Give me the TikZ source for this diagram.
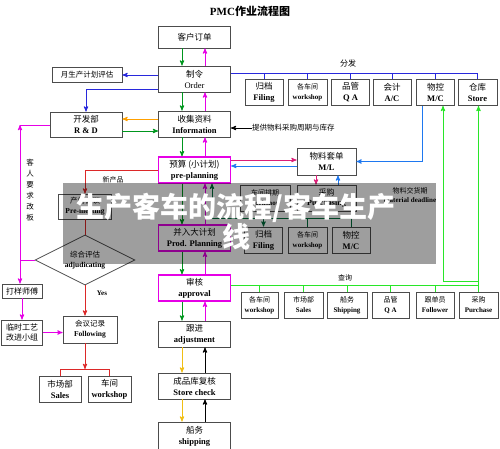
\documentclass[tikz,border=0pt]{standalone}
\usepackage{fontspec}
\setmainfont{Liberation Serif}
\newfontfamily\cjk{Noto Sans CJK SC}
\usepackage{tikz}
\usetikzlibrary{arrows,shapes.geometric}
\definecolor{gcol}{RGB}{0,150,30}
\definecolor{mcol}{RGB}{230,0,230}
\definecolor{bcol}{RGB}{40,40,220}
\definecolor{lbcol}{RGB}{30,120,240}
\definecolor{ocol}{RGB}{255,160,0}
\definecolor{ycol}{RGB}{240,190,20}
\definecolor{rcol}{RGB}{220,40,40}
\definecolor{qcol}{RGB}{40,230,40}
\definecolor{dgcol}{RGB}{0,110,60}
\definecolor{pcol}{RGB}{220,30,120}
\newcommand{\twol}[2]{{\cjk #1}\\{\bfseries #2}}
\tikzset{
        pmcnode/.style = {align=center, inner sep=0pt, text centered,
            font=\fontsize{8.5}{11}\selectfont},
        pmc_box/.style = {pmcnode, rectangle, draw=black!70, line width=0.8pt,
            fill=white, minimum height=26pt},
        pmc_big/.style = {pmc_box, minimum width=72pt},
        pmc_pink/.style = {pmc_big, draw=mcol, line width=1.3pt},
        pmc_sm/.style = {pmc_box, minimum width=38pt},
        pmc_tiny/.style = {pmc_sm, font=\fontsize{7}{10}\selectfont},
        pmc_lbl/.style = {pmcnode, font=\cjk\fontsize{7.5}{9}\selectfont}
    }

\begin{document}
\begin{tikzpicture}[x=1pt,y=-1pt,>=stealth',
        link/.style = {line width=0.9pt},
        gline/.style = {link, gcol}, mline/.style = {link, mcol},
        bline/.style = {link, bcol}, lbline/.style = {link, lbcol},
        oline/.style = {link, ocol}, yline/.style = {link, ycol},
        rline/.style = {link, rcol}, qline/.style = {link, qcol},
        dgline/.style = {link, dgcol}, pline/.style = {link, pcol},
        kline/.style = {link, black}]
    \useasboundingbox (0,0) rectangle (500,448);
    \node[pmcnode, font=\bfseries\fontsize{11}{13}\selectfont] (title) at (250,11) {PMC{\cjk 作业流程图}};

    % main column
    \node[pmc_big, minimum height=22pt] (cust) at (194.5,37) {{\cjk 客户订单}};
    \node[pmc_big] (order) at (194.5,79) {{\cjk 制令}\\Order};
    \node[pmc_big] (info) at (194.5,124) {\twol{收集资料}{Information}};
    \node[pmc_pink] (preplan) at (194.5,170) {\twol{预算 (小计划)}{pre-planning}};
    \node[pmc_pink] (prodplan) at (194.5,238) {\twol{并入大计划}{Prod. Planning}};
    \node[pmc_pink] (approval) at (194.5,288) {\twol{审核}{approval}};
    \node[pmc_big] (adjust) at (194.5,334) {\twol{跟进}{adjustment}};
    \node[pmc_big] (storechk) at (194.5,386) {\twol{成品库复核}{Store check}};
    \node[pmc_big, minimum height=28pt] (shipping) at (194.5,436) {\twol{船务}{shipping}};

    % left side
    \node[pmc_box, minimum width=70pt, minimum height=15pt,
        font=\cjk\fontsize{7.5}{9}\selectfont] (monthly) at (87,75) {月生产计划评估};
    \node[pmc_box, minimum width=72pt, minimum height=25pt] (rd) at (86,124.5) {\twol{开发部}{R \& D}};
    \node[pmc_box, minimum width=53pt, minimum height=25pt,
        font=\fontsize{7.5}{10}\selectfont] (premeet) at (85,206.5) {\twol{产前会议}{Pre-meeting}};
    \node[pmcnode, diamond, aspect=2, draw=black!70, line width=0.8pt, fill=white,
        minimum width=100pt, minimum height=50pt,
        font=\fontsize{7.5}{10}\selectfont] (judge) at (85,260) {\twol{综合评估}{adjudicating}};
    \node[pmc_box, minimum width=54pt, minimum height=27pt,
        font=\fontsize{7.5}{10}\selectfont] (following) at (90,329.5) {\twol{会议记录}{Following}};
    \node[pmc_box, minimum width=42pt] (sales1) at (60,389) {\twol{市场部}{Sales}};
    \node[pmc_box, minimum width=43pt] (shop1) at (109.5,389) {\twol{车间}{workshop}};
    \node[pmc_box, minimum width=40pt, minimum height=14pt,
        font=\cjk\fontsize{8}{9}\selectfont] (sample) at (22,291) {打样师傅};
    \node[pmc_box, minimum width=41pt, minimum height=25pt,
        font=\cjk\fontsize{8}{10}\selectfont] (team) at (22,332.5) {临时工艺\\改进小组};
    \node[pmc_lbl, font=\cjk\fontsize{7.5}{11}\selectfont] (req) at (30,190) {客\\人\\要\\求\\改\\板};

    % distribution row
    \node[pmc_sm] (file1) at (264,92.5) {\twol{归档}{Filing}};
    \node[pmc_tiny, minimum width=39pt] (shop2) at (307.5,92.5) {\twol{各车间}{workshop}};
    \node[pmc_sm] (qa1) at (350.5,92.5) {\twol{品管}{Q A}};
    \node[pmc_sm] (ac1) at (392,92.5) {\twol{会计}{A/C}};
    \node[pmc_sm] (mc1) at (435.5,92.5) {\twol{物控}{M/C}};
    \node[pmc_sm, minimum width=39pt] (store1) at (477.5,92.5) {\twol{仓库}{Store}};
    \node[pmc_lbl, font=\cjk\fontsize{8}{9}\selectfont] (dist) at (348,63) {分发};
    \node[pmc_lbl, anchor=west] (supply) at (252,128) {提供物料采购周期与库存};

    % material list
    \node[pmc_box, minimum width=59pt, minimum height=27pt] (ml) at (326.5,161.5) {\twol{物料套单}{M/L}};
    \node[pmc_box, minimum width=59pt, font=\fontsize{8}{10.5}\selectfont] (purch1) at (326.5,198) {\twol{采购}{Purchasing}};
    \node[pmc_tiny, minimum width=50pt] (sched) at (265,198) {\twol{车间排期}{workshop}};
    \node[pmcnode, font=\fontsize{7}{9}\selectfont] (deadline) at (410,195) {{\cjk 物料交货期}\\{\bfseries material deadline}};
    \node[pmc_sm] (file2) at (263.5,240) {\twol{归档}{Filing}};
    \node[pmc_tiny, minimum width=39pt] (shop3) at (307.5,240) {\twol{各车间}{workshop}};
    \node[pmc_sm] (mc2) at (351,240) {\twol{物控}{M/C}};

    % query row
    \node[pmc_tiny, minimum width=37pt] (shop4) at (259.5,305) {\twol{各车间}{workshop}};
    \node[pmc_tiny, minimum width=39pt] (sales2) at (303.5,305) {\twol{市场部}{Sales}};
    \node[pmc_tiny, minimum width=40pt] (ship2) at (347,305) {\twol{船务}{Shipping}};
    \node[pmc_tiny, minimum width=37pt] (qa2) at (390.5,305) {\twol{品管}{Q A}};
    \node[pmc_tiny] (follow2) at (435,305) {\twol{跟单员}{Follower}};
    \node[pmc_tiny, minimum width=39pt] (purch2) at (478.5,305) {\twol{采购}{Purchase}};
    \node[pmc_lbl, font=\cjk\fontsize{7}{8}\selectfont] (query) at (345,278) {查询};

    % main column links
    \foreach \a/\b in {cust/order, order/info, info/preplan, preplan/prodplan, prodplan/approval, approval/adjust} {
        \draw[gline,->] ([xshift=-12.5pt]\a.south) -- ([xshift=-12.5pt]\b.north);
        \draw[mline,->] ([xshift=10.5pt]\b.north) -- ([xshift=10.5pt]\a.south);
    }
    \foreach \a/\b in {adjust/storechk, storechk/shipping} {
        \draw[yline,->] ([xshift=-12.5pt]\a.south) -- ([xshift=-12.5pt]\b.north);
        \draw[kline,->] ([xshift=10.5pt]\b.north) -- ([xshift=10.5pt]\a.south);
    }

    % distribution
    \coordinate (dist_l) at ([yshift=6pt]order.east);
    \draw[bline] (dist_l) -- (dist_l -| store1.north);
    \foreach \n in {file1,shop2,qa1,ac1,mc1,store1}
        \draw[bline] (dist_l -| \n.north) -- (\n.north);
    \coordinate (o_w1) at ([yshift=4pt]order.west);
    \draw[bline,->] (o_w1) -- (o_w1 -| monthly.east);
    \coordinate (o_w2) at ([yshift=-10pt]order.west);
    \draw[bline,->] (o_w2) -| (rd.north);
    \coordinate (i_w1) at ([yshift=5pt]info.west);
    \draw[oline,->] (i_w1) -- (i_w1 -| rd.east);
    \coordinate (r_e1) at ([yshift=-6.5pt]rd.east);
    \draw[gline,->] (r_e1) -- (r_e1 -| info.west);
    \draw[kline,->] (supply.west) -- (supply.west -| info.east);

    % material list links
    \coordinate (pp_a) at ([yshift=10pt]preplan.east);
    \draw[pline,->] (pp_a) -- (pp_a -| ml.west);
    \coordinate (pp_b) at ([yshift=4pt]preplan.east);
    \draw[lbline,<-] (pp_b) -- (pp_b -| ml.west);
    \draw[pline,->] ([xshift=-10.5pt]ml.south) -- ([xshift=-10.5pt]purch1.north);
    \draw[lbline,->] ([xshift=11.5pt]purch1.north) -- ([xshift=11.5pt]ml.south);
    \coordinate (mc_b) at ([xshift=-13.5pt]mc1.south);
    \draw[lbline,->] (mc_b) |- (ml.east);
    \coordinate (b2) at (212,218);
    \draw[dgline,->] (b2) -- (b2 |- preplan.south);
    \draw[dgline] (b2) -- (b2 -| mc2.north);
    \draw[dgline,->] (b2 -| file2.north) -- (file2.north);
    \draw[dgline] (b2 -| shop3.north) -- (shop3.north);
    \draw[dgline] (b2 -| mc2.north) -- (mc2.north);

    % new product path
    \draw[rline,->] (preplan.west) -| (premeet.north);
    \node[pmc_lbl, font=\cjk\fontsize{7}{8}\selectfont] (newprod) at (113,180) {新产品};
    \draw[rline] (premeet.south) -- (judge.north);
    \draw[rline,->] (judge.south) -- (judge.south |- following.north);
    \node[pmcnode, font=\bfseries\fontsize{7}{8}\selectfont] (yes) at (102,293) {Yes};
    \coordinate (split) at (85,369);
    \draw[rline,->] (judge.south |- following.south) -- (split);
    \draw[rline] (sales1.north) |- (split) -| (shop1.north);

    % customer changes
    \coordinate (bend) at (20,125);
    \draw[mline,->] (judge.west) -| (bend);
    \draw[mline] (bend) -- (bend -| rd.west);
    \draw[mline,->] (judge.west -| bend) -- (bend |- sample.north);
    \draw[mline,->] (sample.south) -- (team.north);
    \draw[mline,->] (team.east) -- (team.east -| following.west);

    % query
    \coordinate (q_l) at ([yshift=3pt]approval.east);
    \draw[qline] (q_l) -- (q_l -| purch2.north);
    \foreach \n in {shop4,sales2,ship2,qa2,follow2}
        \draw[qline] (q_l -| \n.north) -- (\n.north);
    \draw[qline] (q_l -| purch2.north) -- (purch2.north);
    \draw[qline,->] (q_l -| purch2.north) -- (purch2.north |- store1.south);
    \coordinate (q_m) at (443,281);
    \draw[qline,->] (q_m -| purch2.north) -- (q_m) -- (q_m |- mc1.south);

    % watermark
    \fill[black, opacity=0.38] (63,183) rectangle (436,264);
    \node[align=center, inner sep=0pt, text=white,
        font=\cjk\bfseries\fontsize{28}{30}\selectfont] (mark) at (236,222) {生产客车的流程/客车生产\\线};
\end{tikzpicture}
\end{document}
